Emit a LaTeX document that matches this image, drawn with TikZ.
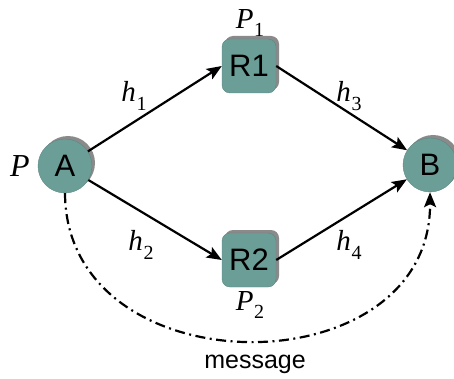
\documentclass[tikz,border=0pt]{standalone}
\usepackage{fontspec}
\setmainfont{Liberation Serif}
\setsansfont{Liberation Sans}
\usetikzlibrary{arrows.meta,shadows}

\definecolor{nodefill}{RGB}{108,158,152}
\definecolor{nodeshade}{RGB}{138,138,138}

% italic symbol with an upright, lowered index
\newcommand{\symidx}[2]{\textit{#1}\kern0.02em\raisebox{-0.3em}{\fontsize{20}{20}\selectfont #2}}

\begin{document}
\begin{tikzpicture}[x=1pt,y=-1pt,
  nodebase/.style={fill=nodefill, draw=nodefill!85!black, line width=0.4pt,
    general shadow={fill=nodeshade, shadow xshift=3pt, shadow yshift=3pt},
    font=\sffamily\fontsize{31}{31}\selectfont, inner sep=0pt},
  host/.style={nodebase, circle, minimum size=54pt},
  router/.style={nodebase, rectangle, rounded corners=8pt, minimum width=54pt, minimum height=54pt},
  sym/.style={font=\fontsize{29}{29}\selectfont, inner sep=0pt},
  conn/.style={line width=2.2pt, -{Stealth[length=15pt,width=12pt,inset=3pt]}},
  msg/.style={line width=2.2pt, dash pattern=on 10pt off 4.5pt on 2pt off 4.5pt,
    -{Stealth[length=15pt,width=12pt,inset=3pt]}}
]
\useasboundingbox (0,0) rectangle (454,379);

% hosts and routers
\node[host]   (A)  at (65,166)  {A};
\node[host]   (B)  at (430,165) {B};
\node[router] (R1) at (249,66)  {R1};
\node[router] (R2) at (249,260) {R2};

% path labels
\node[sym, font=\fontsize{32}{32}\selectfont] (pA) at (20,166) {\textit{P}};
\node[sym] (p1) at (250,23)  {\symidx{P}{1}};
\node[sym] (p2) at (250,305) {\symidx{P}{2}};

% hop labels
\node[sym] (h1) at (134,96)  {\symidx{h}{1}};
\node[sym] (h2) at (141,245) {\symidx{h}{2}};
\node[sym] (h3) at (349,96)  {\symidx{h}{3}};
\node[sym] (h4) at (349,245) {\symidx{h}{4}};

% links
\draw[conn] (A) -- (R1.west);
\draw[conn] (R1.east) -- (B);
\draw[conn] (A) -- (R2.west);
\draw[conn] (R2.east) -- (B);

% end-to-end message
\draw[msg] (A.south) .. controls (66,390) and (431,390) .. (B.south);
\node[font=\sffamily\fontsize{25}{25}\selectfont, inner sep=0pt] (m) at (255,364) {message};
\end{tikzpicture}
\end{document}
